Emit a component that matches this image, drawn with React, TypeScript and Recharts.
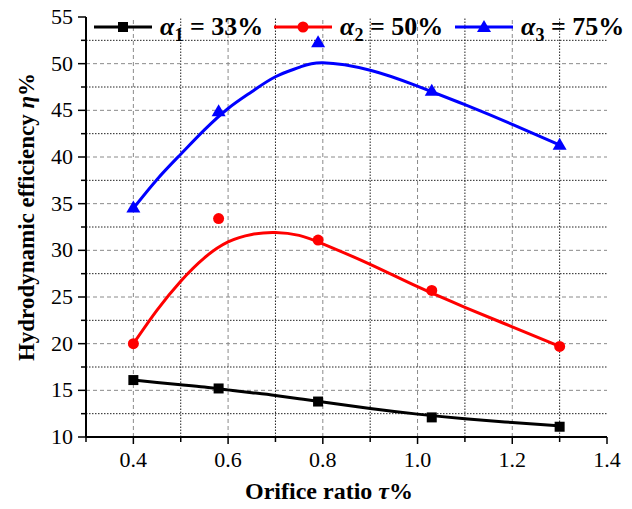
import {
  ComposedChart,
  Line,
  Scatter,
  XAxis,
  YAxis,
  ReferenceLine,
} from "recharts";

// measured points (orifice ratio vs. efficiency)
const TAU = [0.4, 0.58, 0.79, 1.03, 1.3];
const ETA_A1 = [16.1, 15.2, 13.8, 12.1, 11.1];
const ETA_A2 = [20.0, 33.4, 31.1, 25.7, 19.7];
const ETA_A3 = [34.6, 44.9, 52.3, 47.1, 41.3];

// fitted curves, sampled along tau
const FIT_TAU = [0.4, 0.45, 0.5, 0.55, 0.6, 0.65, 0.7, 0.75, 0.8, 0.9, 1.0, 1.1, 1.2, 1.3];
const FIT_A1 = [16.1, 15.85, 15.6, 15.35, 15.05, 14.75, 14.45, 14.1, 13.75, 13.05, 12.45, 11.95, 11.55, 11.2];
const FIT_A2 = [20.0, 23.6, 26.7, 29.2, 30.9, 31.7, 31.9, 31.6, 30.7, 28.5, 26.1, 23.9, 21.8, 19.7];
const FIT_A3 = [34.5, 37.6, 40.3, 42.9, 45.2, 47.0, 48.6, 49.6, 50.1, 49.3, 47.6, 45.6, 43.5, 41.3];

const X_MAJOR = [0.4, 0.6, 0.8, 1.0, 1.2, 1.4];
const X_MINOR = [0.3, 0.5, 0.7, 0.9, 1.1, 1.3];
const Y_MAJOR = [10, 15, 20, 25, 30, 35, 40, 45, 50, 55];
const Y_MINOR = [12.5, 17.5, 22.5, 27.5, 32.5, 37.5, 42.5, 47.5, 52.5];

const LEGEND = [
  { sub: "1", value: "33%", color: "#000000", marker: "square", left: 94 },
  { sub: "2", value: "50%", color: "#ff0000", marker: "circle", left: 274 },
  { sub: "3", value: "75%", color: "#0000ff", marker: "triangle", left: 455 },
];

const toPoints = (xs: number[], ys: number[]) => xs.map((x, i) => ({ x, y: ys[i] }));

const SERIF = "Liberation Serif, Times New Roman, serif";

function Marker({ kind, cx, cy, color }: { kind: string; cx: number; cy: number; color: string }) {
  if (kind === "square") return <rect x={cx - 5} y={cy - 5} width={10} height={10} fill={color} />;
  if (kind === "circle") return <circle cx={cx} cy={cy} r={5.5} fill={color} />;
  return <polygon points={`${cx},${cy - 7} ${cx + 7},${cy + 5} ${cx - 7},${cy + 5}`} fill={color} />;
}

const shapeFor = (kind: string, color: string) => (p: any) => (
  <Marker kind={kind} cx={p.cx} cy={p.cy} color={color} />
);

function XTick(props: any) {
  const { x, y, payload } = props;
  const major = X_MAJOR.some((v) => Math.abs(v - payload.value) < 1e-6);
  return (
    <g>
      <line x1={x} x2={x} y1={y} y2={y + (major ? 7 : 5)} stroke="#000" strokeWidth={1.5} />
      {major && (
        <text x={x} y={y + 30} textAnchor="middle" fontSize={22} fontFamily={SERIF} fill="#000">
          {payload.value.toFixed(1)}
        </text>
      )}
    </g>
  );
}

function YTick(props: any) {
  const { x, y, payload } = props;
  const major = Y_MAJOR.includes(payload.value);
  return (
    <g>
      <line x1={x} x2={x - (major ? 8 : 5)} y1={y} y2={y} stroke="#000" strokeWidth={1.5} />
      {major && (
        <text x={x - 13} y={y + 7} textAnchor="end" fontSize={22} fontFamily={SERIF} fill="#000">
          {payload.value}
        </text>
      )}
    </g>
  );
}

function LegendRow() {
  return (
    <>
      {LEGEND.map((it, i) => (
        <div
          key={i}
          style={{
            position: "absolute",
            left: it.left,
            top: 12,
            display: "flex",
            alignItems: "center",
            fontFamily: SERIF,
            fontWeight: "bold",
            fontSize: 26,
            lineHeight: "30px",
          }}
        >
          <svg width={58} height={20} style={{ marginRight: 8 }}>
            <line x1={0} x2={58} y1={10} y2={10} stroke={it.color} strokeWidth={3} />
            <Marker kind={it.marker} cx={29} cy={10} color={it.color} />
          </svg>
          <span style={{ whiteSpace: "nowrap" }}>
            <i>α</i>
            <sub style={{ fontSize: 18, verticalAlign: -6, lineHeight: 0 }}>{it.sub}</sub> = {it.value}
          </span>
        </div>
      ))}
    </>
  );
}

export default function App() {
  return (
    <div style={{ position: "absolute", left: 0, top: 0, width: 632, height: 509, background: "#fff" }}>
      <ComposedChart width={632} height={509} margin={{ top: 17, right: 25, bottom: 32, left: 10 }}>
        <XAxis
          type="number"
          dataKey="x"
          domain={[0.3, 1.4]}
          ticks={[...X_MINOR, ...X_MAJOR].sort((a, b) => a - b)}
          interval={0}
          tick={<XTick />}
          tickLine={false}
          tickSize={0}
          tickMargin={0}
          height={40}
          axisLine={{ stroke: "#000", strokeWidth: 2 }}
          allowDataOverflow
        />
        <YAxis
          type="number"
          dataKey="y"
          domain={[10, 55]}
          ticks={[...Y_MINOR, ...Y_MAJOR].sort((a, b) => a - b)}
          interval={0}
          tick={<YTick />}
          tickLine={false}
          tickSize={0}
          tickMargin={0}
          width={76}
          axisLine={{ stroke: "#000", strokeWidth: 2 }}
          allowDataOverflow
        />

        {/* grid: grey dashed on major ticks, black dotted on minor ticks */}
        {X_MAJOR.filter((v) => v < 1.4).map((v) => (
          <ReferenceLine key={"xM" + v} x={v} stroke="#8a8a8a" strokeDasharray="4 3" />
        ))}
        {X_MINOR.filter((v) => v > 0.3).map((v) => (
          <ReferenceLine key={"xm" + v} x={v} stroke="#222" strokeDasharray="1.5 1.5" />
        ))}
        {Y_MAJOR.filter((v) => v > 10 && v < 55).map((v) => (
          <ReferenceLine key={"yM" + v} y={v} stroke="#8a8a8a" strokeDasharray="4 3" />
        ))}
        {Y_MINOR.map((v) => (
          <ReferenceLine key={"ym" + v} y={v} stroke="#222" strokeDasharray="1.5 1.5" />
        ))}

        <Line data={toPoints(FIT_TAU, FIT_A1)} dataKey="y" type="natural" stroke="#000000" strokeWidth={3} dot={false} isAnimationActive={false} />
        <Line data={toPoints(FIT_TAU, FIT_A2)} dataKey="y" type="natural" stroke="#ff0000" strokeWidth={3} dot={false} isAnimationActive={false} />
        <Line data={toPoints(FIT_TAU, FIT_A3)} dataKey="y" type="natural" stroke="#0000ff" strokeWidth={3} dot={false} isAnimationActive={false} />

        <Scatter data={toPoints(TAU, ETA_A1)} dataKey="y" shape={shapeFor("square", "#000000")} isAnimationActive={false} />
        <Scatter data={toPoints(TAU, ETA_A2)} dataKey="y" shape={shapeFor("circle", "#ff0000")} isAnimationActive={false} />
        <Scatter data={toPoints(TAU, ETA_A3)} dataKey="y" shape={shapeFor("triangle", "#0000ff")} isAnimationActive={false} />
      </ComposedChart>

      <LegendRow />

      <div
        style={{
          position: "absolute",
          left: 329,
          top: 491,
          transform: "translate(-50%, -50%)",
          fontFamily: SERIF,
          fontWeight: "bold",
          fontSize: 24,
          whiteSpace: "nowrap",
        }}
      >
        Orifice ratio <i>τ</i>%
      </div>
      <div
        style={{
          position: "absolute",
          left: 27,
          top: 217,
          transform: "translate(-50%, -50%) rotate(-90deg)",
          fontFamily: SERIF,
          fontWeight: "bold",
          fontSize: 23,
          whiteSpace: "nowrap",
        }}
      >
        Hydrodynamic efficiency <i>η</i>%
      </div>
    </div>
  );
}
